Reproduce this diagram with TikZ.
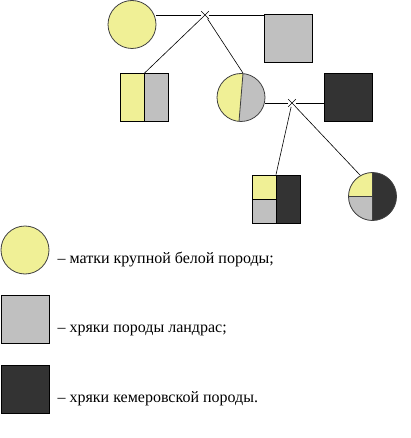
\documentclass[tikz,border=0pt]{standalone}
\usepackage{fontspec}
\setmainfont{Liberation Serif}
\usepackage{tikz}
\usetikzlibrary{shapes.misc}
\usetikzlibrary{positioning}
\definecolor{lwyellow}{RGB}{240,240,150}
\definecolor{ldgray}{RGB}{192,192,192}
\definecolor{kmdark}{RGB}{51,51,51}
\tikzset{sow/.style={circle, draw=black!75, fill=lwyellow, minimum size=48pt, inner sep=0pt, line width=0.8pt},
         boar/.style={rectangle, draw=black, minimum size=48pt, inner sep=0pt, line width=0.8pt},
         mating/.style={cross out, draw, minimum size=7pt, inner sep=0pt, line width=0.6pt},
         link/.style={line width=0.8pt},
         descent/.style={line width=0.6pt},
         yellowgray/.style={fill=ldgray, path picture={
           \fill[lwyellow] (path picture bounding box.north west) -- ([xshift=#1]path picture bounding box.north)
             -- ([xshift=-#1]path picture bounding box.south) -- (path picture bounding box.south west) -- cycle;
           \draw[line width=0.8pt] ([xshift=#1]path picture bounding box.north) -- ([xshift=-#1]path picture bounding box.south);}},
         quarters/.style={fill=kmdark, path picture={
           \fill[lwyellow] (path picture bounding box.north west) rectangle (path picture bounding box.center);
           \fill[ldgray] (path picture bounding box.west) rectangle (path picture bounding box.south);
           \draw[line width=0.8pt] (path picture bounding box.north) -- (path picture bounding box.south);
           \draw[line width=0.8pt] (path picture bounding box.west) -- (path picture bounding box.center);}},
         legend/.style={font=\fontsize{16}{18}\selectfont, inner sep=0pt, anchor=base west}}
\begin{document}
\begin{tikzpicture}[x=1pt,y=1pt]
\useasboundingbox (0,0) rectangle (410,-438);
% first crossing
\node[sow] (sowA) at (132,-24.5) {};
\node[boar, fill=ldgray] (boarL) at (288,-38) {};
\node[mating] (xA) at (205,-15) {};
\draw[link] (xA) -- (xA -| sowA.east);
\draw[link] (xA) -- (xA -| boarL.west);
\node[boar, yellowgray=0pt] (f1boar) at (144.5,-97.5) {};
\node[sow, yellowgray=2pt] (f1sow) at (241,-97.5) {};
\draw[descent] (xA) -- (f1boar.north);
\draw[descent] (xA) -- ([xshift=2pt]f1sow.north);
% second crossing
\node[boar, fill=kmdark] (boarK) at (348,-97.5) {};
\node[mating] (xB) at (292,-103) {};
\draw[link] (xB) -- (xB -| f1sow.east);
\draw[link] (xB) -- (xB -| boarK.west);
\node[boar, quarters] (f2boar) at (276,-199) {};
\node[sow, quarters] (f2sow) at (372.5,-196.5) {};
\draw[descent] (xB) -- (f2boar.north);
\draw[descent] (xB) -- (f2sow.120);
% legend
\node[sow] (keySow) at (25,-250) {};
\node[boar, fill=ldgray] (keyLand) at (25,-319) {};
\node[boar, fill=kmdark] (keyKem) at (25,-389) {};
\node[legend] (txtSow) at ([xshift=8pt,yshift=-13pt]keySow.east) {– матки крупной белой породы;};
\node[legend] (txtLand) at ([xshift=8pt,yshift=-13pt]keyLand.east) {– хряки породы ландрас;};
\node[legend] (txtKem) at ([xshift=8pt,yshift=-13pt]keyKem.east) {– хряки кемеровской породы.};
\end{tikzpicture}
\end{document}
